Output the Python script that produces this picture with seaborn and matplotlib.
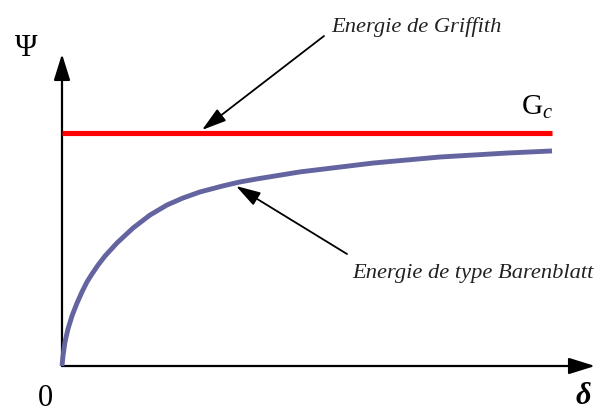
import matplotlib
matplotlib.use("Agg")
import matplotlib.pyplot as plt
import pandas as pd
import seaborn as sns
from matplotlib.patches import ArrowStyle

# Ouverture delta (unités arbitraires) et énergie Psi normalisée par G_c
delta_barenblatt = [0.0, 0.020, 0.061, 0.122, 0.204, 0.306, 0.408, 0.510, 0.612,
                    0.735, 0.878, 1.122, 1.449, 1.796, 2.143, 2.469, 2.816,
                    3.286, 3.633, 3.980, 4.857, 6.347, 7.714, 9.082, 10.0]
psi_barenblatt = [0.0, 0.043, 0.103, 0.159, 0.215, 0.270, 0.318, 0.361, 0.395,
                  0.433, 0.472, 0.528, 0.592, 0.648, 0.691, 0.721, 0.747,
                  0.773, 0.790, 0.803, 0.833, 0.871, 0.897, 0.914, 0.923]
delta_griffith = [0.0, 10.0]
psi_griffith = [1.0, 1.0]

label_griffith = "Energie de Griffith"
label_barenblatt = "Energie de type Barenblatt"

sns.set_theme(style="white")
plt.rcParams["font.family"] = ["Liberation Serif", "DejaVu Serif"]
plt.rcParams["mathtext.fontset"] = "custom"
plt.rcParams["mathtext.rm"] = "Liberation Serif"
plt.rcParams["mathtext.it"] = "Liberation Serif:italic"

W, H = 596, 414
fig = plt.figure(figsize=(W / 100, H / 100), dpi=100)
ax = fig.add_axes([0, 0, 1, 1])

# origin of the sketch in pixels and pixels per data unit
X0, Y0, SX, SY = 62, 367, 49.0, 233.0


def px(x, y):
    return (x - X0) / SX, (Y0 - y) / SY


df_b = pd.DataFrame({"delta": delta_barenblatt, "psi": psi_barenblatt})
df_g = pd.DataFrame({"delta": delta_griffith, "psi": psi_griffith})

# axes drawn as arrows
axis_style = ArrowStyle("-|>", head_length=1.6, head_width=0.5)
ax.annotate("", xy=px(X0, 55), xytext=(0, 0),
            arrowprops=dict(arrowstyle=axis_style, mutation_scale=10,
                            lw=1.6, color="black", shrinkA=0, shrinkB=0),
            zorder=1)
ax.annotate("", xy=px(595, Y0), xytext=(0, 0),
            arrowprops=dict(arrowstyle=axis_style, mutation_scale=10,
                            lw=1.6, color="black", shrinkA=0, shrinkB=0),
            zorder=1)

sns.lineplot(data=df_g, x="delta", y="psi", color="#ff0000", lw=3.7,
             ax=ax, solid_capstyle="butt", zorder=3)
sns.lineplot(data=df_b, x="delta", y="psi", color="#6464a0", lw=3.5,
             ax=ax, solid_capstyle="butt", solid_joinstyle="round", zorder=3)
ax.set_xlim(px(0, 0)[0], px(W, 0)[0])
ax.set_ylim(px(0, H)[1], px(0, 0)[1])
ax.axis("off")

# pointer arrows
ptr_style = ArrowStyle("-|>", head_length=1.5, head_width=0.45)
ax.annotate("", xy=px(202, 131), xytext=px(324, 37),
            arrowprops=dict(arrowstyle=ptr_style, mutation_scale=10,
                            lw=1.3, color="black", shrinkA=0, shrinkB=0),
            zorder=4)
ax.annotate("", xy=px(236, 187), xytext=px(347, 255),
            arrowprops=dict(arrowstyle=ptr_style, mutation_scale=10,
                            lw=1.3, color="black", shrinkA=0, shrinkB=0),
            zorder=4)

txt = "#222222"
ax.text(*px(331, 32), label_griffith, fontsize=16.2, style="italic",
        color=txt, ha="left", va="baseline")
ax.text(*px(352, 278), label_barenblatt, fontsize=16.2, style="italic",
        color=txt, ha="left", va="baseline")
ax.text(*px(26, 48), "\u03a8", fontsize=22, color="black",
        ha="center", va="center")
ax.text(*px(45, 399), "0", fontsize=22, color="black",
        ha="center", va="center")
ax.text(*px(583, 397), "\u03b4", fontsize=22, color="black",
        fontweight="bold", style="italic", ha="center", va="center")
ax.text(*px(521, 115), r"$\mathrm{G}_c$", fontsize=21, color="black",
        ha="left", va="baseline")

fig.savefig("out.png", dpi=100)
